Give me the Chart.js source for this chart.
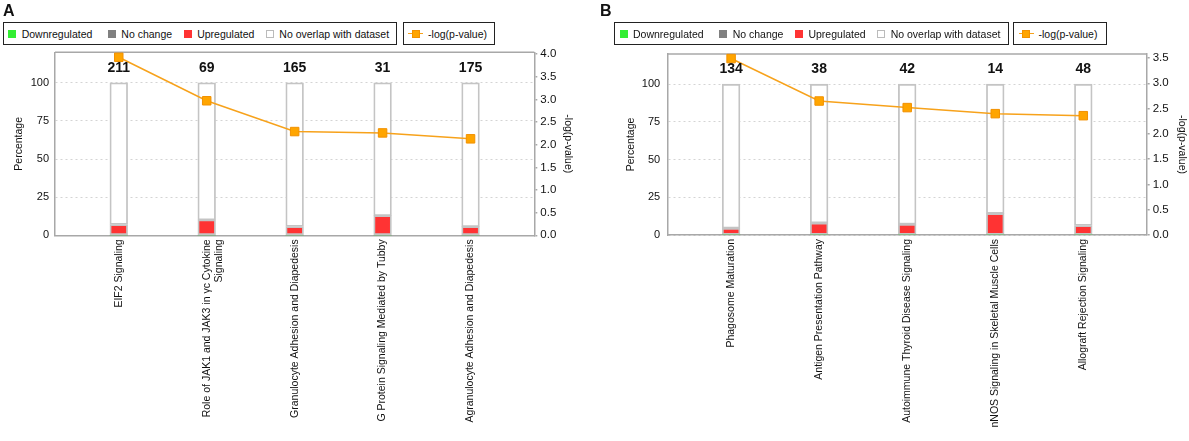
<!DOCTYPE html>
<html><head><meta charset="utf-8">
<script src="https://cdn.jsdelivr.net/npm/chart.js@4/dist/chart.umd.min.js"></script>
<style>
body{margin:0;background:#fff;width:1189px;height:441px;position:relative;overflow:hidden;font-family:"Liberation Sans",Arial,sans-serif}
.letter{position:absolute;font-weight:bold;font-size:16px;line-height:16px;color:#111;z-index:2}
.lg{position:absolute;top:22px;height:23px;box-sizing:border-box;border:1.5px solid #222;display:flex;align-items:center;font-size:10.5px;color:#111;white-space:nowrap;background:#fff;z-index:2}
.it{display:flex;align-items:center;margin-left:4.5px;margin-right:7.5px}
.sw{width:8px;height:8px;box-sizing:border-box;margin-right:5.5px}
.ln{position:relative;width:15px;height:9px;margin-right:5px}
.ln:before{content:"";position:absolute;left:0;right:0;top:3.75px;height:1.5px;background:#F7A21B}
.ln:after{content:"";position:absolute;left:3.5px;top:0.5px;width:8px;height:8px;background:#FFA500;box-sizing:border-box;border:1px solid #F29100}
canvas{position:absolute;top:0}
</style></head>
<body>
<canvas id="cA" width="594" height="441" style="left:0"></canvas>
<canvas id="cB" width="594" height="441" style="left:595px"></canvas>

<div class="letter" style="left:3px;top:3px">A</div>
<div class="lg" style="left:2.7px;width:394.5px">
  <span class="it"><span class="sw" style="background:#33EE33"></span>Downregulated</span>
  <span class="it" style="margin-left:8px"><span class="sw" style="background:#808080"></span>No change</span>
  <span class="it" style="margin-left:4px"><span class="sw" style="background:#FF3333"></span>Upregulated</span>
  <span class="it" style="margin-left:4px"><span class="sw" style="background:#fff;border:1px solid #bbb"></span>No overlap with dataset</span>
</div>
<div class="lg" style="left:402.6px;width:92.2px">
  <span class="it"><span class="ln"></span>-log(p-value)</span>
</div>

<div class="letter" style="left:600px;top:3px">B</div>
<div class="lg" style="left:614px;width:395px">
  <span class="it"><span class="sw" style="background:#33EE33"></span>Downregulated</span>
  <span class="it" style="margin-left:8px"><span class="sw" style="background:#808080"></span>No change</span>
  <span class="it" style="margin-left:4px"><span class="sw" style="background:#FF3333"></span>Upregulated</span>
  <span class="it" style="margin-left:4px"><span class="sw" style="background:#fff;border:1px solid #bbb"></span>No overlap with dataset</span>
</div>
<div class="lg" style="left:1013px;width:94px">
  <span class="it"><span class="ln"></span>-log(p-value)</span>
</div>

<script>
// ---------- Panel A data ----------
const categoriesA = ['EIF2 Signaling', ['Role of JAK1 and JAK3 in γc Cytokine', 'Signaling'], 'Granulocyte Adhesion and Diapedesis', 'G Protein Signaling Mediated by Tubby', 'Agranulocyte Adhesion and Diapedesis'];
const downregulatedA = [0, 0, 0, 0, 0];
const noChangeA = [0, 0, 0, 0, 0];
const upregulatedA = [7.1, 10.1, 5.8, 12.9, 5.7];
const noOverlapA = [92.9, 89.9, 94.2, 87.1, 94.3];
const totalsA = [211, 69, 165, 31, 175];
const negLogPA = [3.93, 2.97, 2.29, 2.26, 2.13];

// ---------- Panel B data ----------
const categoriesB = ['Phagosome Maturation', 'Antigen Presentation Pathway', 'Autoimmune Thyroid Disease Signaling', 'nNOS Signaling in Skeletal Muscle Cells', 'Allograft Rejection Signaling'];
const downregulatedB = [0, 0, 0, 0, 0];
const noChangeB = [0, 0, 0, 0, 0];
const upregulatedB = [4.5, 7.9, 7.1, 14.3, 6.3];
const noOverlapB = [95.5, 92.1, 92.9, 85.7, 93.7];
const totalsB = [134, 38, 42, 14, 48];
const negLogPB = [3.49, 2.65, 2.52, 2.40, 2.36];

// ---------- tick labels ----------
const percentTicks = [0, 25, 50, 75, 100];
const pvalueTickStep = 0.5;

const FONT = '"Liberation Sans", Arial, sans-serif';
const AX = '#a8a8a8';
const TXT = '#111';

const frameTop = {
  id: 'frameTop',
  beforeDatasetsDraw(chart) {
    const {ctx, chartArea: a} = chart;
    ctx.save();
    ctx.strokeStyle = AX; ctx.lineWidth = 1.5;
    ctx.beginPath(); ctx.moveTo(a.left, a.top); ctx.lineTo(a.right, a.top); ctx.stroke();
    ctx.restore();
  }
};

const countLabels = {
  id: 'countLabels',
  afterDatasetsDraw(chart, args, opts) {
    const {ctx} = chart;
    const xs = chart.scales.x, ys = chart.scales.y;
    ctx.save();
    ctx.font = 'bold 14px ' + FONT;
    ctx.fillStyle = '#111';
    ctx.textAlign = 'center';
    ctx.textBaseline = 'middle';
    (opts.values || []).forEach((v, i) => {
      ctx.fillText(String(v), xs.getPixelForValue(i), ys.getPixelForValue(100) - 14.7);
    });
    ctx.restore();
  }
};

function makePanel(id, d, g) {
  const pts = arr => arr.map((v, i) => ({x: i, y: v}));
  const n = d.categories.length;
  const barBase = {type: 'bar', xAxisID: 'x', yAxisID: 'y', stack: 's', order: 1,
                   barThickness: 17.7, borderSkipped: false};
  return new Chart(document.getElementById(id), {
    data: {
      datasets: [
        {type: 'line', label: '-log(p-value)', data: pts(d.negLogP), xAxisID: 'x', yAxisID: 'y1', order: 0,
         borderColor: '#F7A21B', borderWidth: 1.5, tension: 0, clip: false,
         pointStyle: 'rect', pointRadius: 6, pointBackgroundColor: '#FFA500',
         pointBorderColor: '#F29100', pointBorderWidth: 1},
        Object.assign({label: 'Downregulated', data: pts(d.down), backgroundColor: '#33EE33', borderWidth: 0}, barBase),
        Object.assign({label: 'No change', data: pts(d.noChange), backgroundColor: '#808080', borderWidth: 0}, barBase),
        Object.assign({label: 'Upregulated', data: pts(d.up), backgroundColor: '#FF3333', borderColor: '#c4c4c4', borderWidth: 1.8}, barBase),
        Object.assign({label: 'No overlap with dataset', data: pts(d.noOverlap), backgroundColor: '#ffffff', borderColor: '#c4c4c4', borderWidth: 1.8}, barBase)
      ]
    },
    options: {
      responsive: false, animation: false, devicePixelRatio: 1,
      layout: {padding: {top: g.top, left: 0, right: 0, bottom: 0}},
      plugins: {legend: {display: false}, tooltip: {enabled: false}, countLabels: {values: d.totals}},
      scales: {
        x: {type: 'linear', stacked: true, min: -g.xPad, max: n - 1 + g.xPad, offset: false,
            grid: {display: false, drawTicks: false}, border: {display: true, color: AX, width: 1.5},
            afterBuildTicks: s => { s.ticks = d.categories.map((_, i) => ({value: i})); },
            ticks: {autoSkip: false, minRotation: 90, maxRotation: 90, padding: 4, color: TXT,
                    font: {family: FONT, size: 10.5}, callback: v => d.categories[v]},
            afterFit: s => { s.height = g.xHeight; }},
        y: {type: 'linear', position: 'left', stacked: true, min: 0, max: 120,
            afterBuildTicks: s => { s.ticks = percentTicks.map(v => ({value: v})); },
            ticks: {padding: g.leftTickPad, color: TXT, font: {family: FONT, size: 11}},
            grid: {color: '#d4d4d4', drawTicks: false, lineWidth: 1},
            border: {display: true, color: AX, width: 1.5, dash: [2, 3]},
            title: {display: true, text: 'Percentage', color: TXT, font: {family: FONT, size: 10.5},
                    padding: {top: g.leftTitlePad, bottom: 0}},
            afterFit: s => { s.width = g.leftW; }},
        y1: {type: 'linear', position: 'right', min: 0, max: g.rightMax,
            afterBuildTicks: s => {
              const t = [];
              for (let k = 0; k * pvalueTickStep <= g.rightMax + 1e-9; k++) t.push({value: +(k * pvalueTickStep).toFixed(2)});
              s.ticks = t;
            },
            ticks: {padding: 3, color: TXT, font: {family: FONT, size: 11.5}, callback: v => Number(v).toFixed(1)},
            grid: {drawOnChartArea: false, drawTicks: true, tickLength: 3, color: AX, lineWidth: 1.5},
            border: {display: true, color: AX, width: 1.5},
            title: {display: true, text: '-log(p-value)', color: TXT, font: {family: FONT, size: 10.5},
                    padding: {top: g.rightTitlePad, bottom: 0}},
            afterFit: s => { s.width = g.rightW; }}
      }
    },
    plugins: [frameTop, countLabels]
  });
}

makePanel('cA',
  {categories: categoriesA, down: downregulatedA, noChange: noChangeA, up: upregulatedA, noOverlap: noOverlapA, totals: totalsA, negLogP: negLogPA},
  {top: 52.3, leftW: 55, rightW: 59.7, xHeight: 205.7, xPad: 0.725, leftTitlePad: 12.7, rightTitlePad: 19.4, leftTickPad: 6, rightMax: 4.04});

makePanel('cB',
  {categories: categoriesB, down: downregulatedB, noChange: noChangeB, up: upregulatedB, noOverlap: noOverlapB, totals: totalsB, negLogP: negLogPB},
  {top: 54, leftW: 72.7, rightW: 42.3, xHeight: 206, xPad: 0.72, leftTitlePad: 29.7, rightTitlePad: 1, leftTickPad: 7.5, rightMax: 3.58});
</script>
</body></html>
